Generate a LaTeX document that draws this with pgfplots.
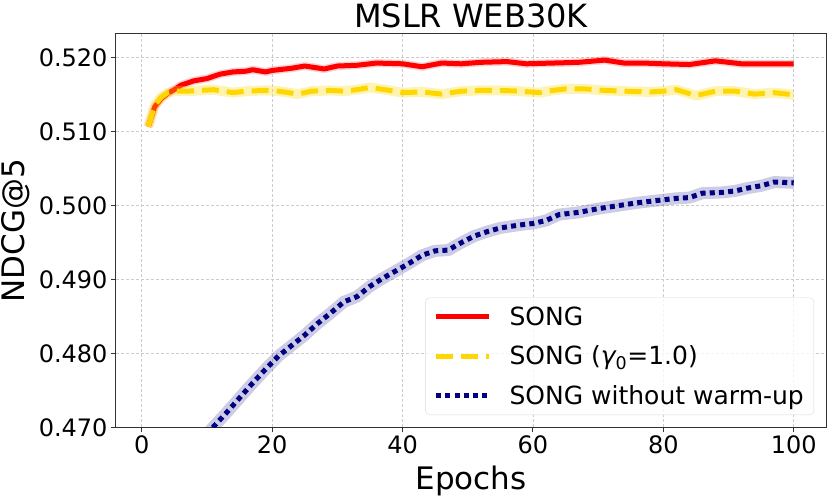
\documentclass[border=0pt]{standalone}
\usepackage{pgfplots}
\pgfplotsset{compat=1.18}
\usepackage{fontspec}
\setmainfont{DejaVu Sans}
\definecolor{songred}{HTML}{FF0000}
\definecolor{songgold}{HTML}{FFD700}
\definecolor{songnavy}{HTML}{000080}

\begin{document}
\begin{tikzpicture}
\begin{axis}[
    scale only axis,
    width=710pt, height=394pt,
    xmin=-3.95, xmax=104.95,
    ymin=0.470, ymax=0.5233,
    xtick={0,20,40,60,80,100},
    ytick={0.47,0.48,0.49,0.50,0.51,0.52},
    scaled y ticks=false,
    yticklabel style={/pgf/number format/.cd,fixed,fixed zerofill,precision=3},
    /pgf/number format/assume math mode=true,
    tick label style={font=\fontsize{24}{28}\selectfont, black},
    tick align=outside, tick pos=left,
    major tick length=5pt,
    every tick/.style={black!80, line width=0.9pt},
    axis line style={black!80, line width=1pt},
    grid=major,
    grid style={dash pattern=on 3pt off 2pt, black!20, line width=0.8pt},
    title={MSLR WEB30K},
    title style={font=\fontsize{32}{36}\selectfont, at={(axis description cs:0.5,1)}, anchor=base, yshift=0pt},
    xlabel={Epochs},
    xlabel style={font=\fontsize{31}{36}\selectfont, at={(axis description cs:0.5,-0.1586)}, anchor=base},
    ylabel={NDCG@5},
    ylabel style={font=\fontsize{31}{36}\selectfont, at={(axis description cs:-0.1282,0.5)}, anchor=base},
    legend cell align=left,
    legend image code/.code={\draw[#1] (0pt,0pt) -- (53pt,0pt);},
    legend style={at={(axis description cs:0.9831,0.0317)}, anchor=south east,
        draw=black!15, rounded corners=4pt, fill=white, fill opacity=0.8, text opacity=1,
        font=\fontsize{25}{29}\selectfont, row sep=15pt, inner xsep=8pt, inner ysep=7pt,
        /tikz/every odd column/.append style={column sep=16pt}},
]
% SONG
\addplot[songred, opacity=0.18, line width=8pt, line join=round, forget plot] coordinates {
(1,0.5107) (2,0.5134) (3,0.5145) (4,0.5152) (5,0.5157) (6,0.5163) (8,0.5169) (10,0.5172)
(12,0.5178) (14,0.5181) (16,0.5182) (17,0.5184) (19,0.5181) (20,0.5183) (23,0.5186) (25,0.5189)
(28,0.5185) (30,0.5189) (33,0.5190) (36,0.5193) (40,0.5192) (43,0.5188) (46,0.5193) (49,0.5192)
(52,0.5194) (56,0.5195) (59,0.5192) (63,0.5193) (67,0.5194) (71,0.5197) (74,0.5193) (77,0.5193)
(80,0.5192) (84,0.5191) (88,0.5196) (92,0.5192) (96,0.5192) (100,0.5192)};
\addplot[songred, line width=5pt, line join=round] coordinates {
(1,0.5107) (2,0.5134) (3,0.5145) (4,0.5152) (5,0.5157) (6,0.5163) (8,0.5169) (10,0.5172)
(12,0.5178) (14,0.5181) (16,0.5182) (17,0.5184) (19,0.5181) (20,0.5183) (23,0.5186) (25,0.5189)
(28,0.5185) (30,0.5189) (33,0.5190) (36,0.5193) (40,0.5192) (43,0.5188) (46,0.5193) (49,0.5192)
(52,0.5194) (56,0.5195) (59,0.5192) (63,0.5193) (67,0.5194) (71,0.5197) (74,0.5193) (77,0.5193)
(80,0.5192) (84,0.5191) (88,0.5196) (92,0.5192) (96,0.5192) (100,0.5192)};
\addlegendentry{SONG}
% SONG gamma_0 = 1.0
\addplot[songgold, opacity=0.3, line width=10pt, line join=round, forget plot] coordinates {
(1,0.5107) (2,0.5136) (3,0.5147) (4,0.5153) (5,0.5155) (7,0.5155) (9,0.5156) (11,0.5157)
(14,0.5153) (16,0.5155) (19,0.5156) (21,0.5155) (24,0.5151) (26,0.5155) (29,0.5156) (31,0.5155)
(33,0.5157) (35,0.5160) (38,0.5156) (40,0.5153) (43,0.5154) (46,0.5151) (49,0.5155) (52,0.5156)
(55,0.5156) (58,0.5155) (61,0.5153) (63,0.5156) (65,0.5158) (68,0.5158) (71,0.5156) (74,0.5155)
(78,0.5154) (80,0.5155) (82,0.5157) (85,0.5149) (88,0.5155) (91,0.5155) (94,0.5151) (97,0.5153)
(100,0.5150)};
\addplot[songgold, line width=5pt, dash pattern=on 17pt off 8pt] coordinates {
(1,0.5107) (2,0.5136) (3,0.5147) (4,0.5153) (5,0.5155) (7,0.5155) (9,0.5156) (11,0.5157)
(14,0.5153) (16,0.5155) (19,0.5156) (21,0.5155) (24,0.5151) (26,0.5155) (29,0.5156) (31,0.5155)
(33,0.5157) (35,0.5160) (38,0.5156) (40,0.5153) (43,0.5154) (46,0.5151) (49,0.5155) (52,0.5156)
(55,0.5156) (58,0.5155) (61,0.5153) (63,0.5156) (65,0.5158) (68,0.5158) (71,0.5156) (74,0.5155)
(78,0.5154) (80,0.5155) (82,0.5157) (85,0.5149) (88,0.5155) (91,0.5155) (94,0.5151) (97,0.5153)
(100,0.5150)};
\addlegendentry{SONG ({\itshape γ}\textsubscript{0}=1.0)}
% SONG without warm-up
\addplot[songnavy, opacity=0.2, line width=12pt, line join=round, forget plot] coordinates {
(1,0.4550) (4,0.4605) (7,0.4652) (9,0.4680) (11,0.4701) (13,0.4720) (15,0.4740) (17,0.4760)
(19,0.4779) (21,0.4797) (23,0.4811) (25,0.4825) (27,0.4841) (29,0.4855) (31,0.4870) (33,0.4877)
(35,0.4891) (37,0.4902) (39,0.4912) (41,0.4922) (43,0.4933) (45,0.4939) (47,0.4940) (49,0.4950)
(51,0.4959) (53,0.4965) (55,0.4970) (58,0.4974) (60,0.4976) (62,0.4980) (64,0.4988) (67,0.4991)
(70,0.4996) (73,0.5000) (76,0.5004) (79,0.5007) (82,0.5010) (84,0.5011) (86,0.5017) (89,0.5018)
(91,0.5020) (93,0.5024) (95,0.5027) (97,0.5032) (100,0.5031)};
\addplot[songnavy, line width=5pt, dash pattern=on 5pt off 4.2pt] coordinates {
(1,0.4550) (4,0.4605) (7,0.4652) (9,0.4680) (11,0.4701) (13,0.4720) (15,0.4740) (17,0.4760)
(19,0.4779) (21,0.4797) (23,0.4811) (25,0.4825) (27,0.4841) (29,0.4855) (31,0.4870) (33,0.4877)
(35,0.4891) (37,0.4902) (39,0.4912) (41,0.4922) (43,0.4933) (45,0.4939) (47,0.4940) (49,0.4950)
(51,0.4959) (53,0.4965) (55,0.4970) (58,0.4974) (60,0.4976) (62,0.4980) (64,0.4988) (67,0.4991)
(70,0.4996) (73,0.5000) (76,0.5004) (79,0.5007) (82,0.5010) (84,0.5011) (86,0.5017) (89,0.5018)
(91,0.5020) (93,0.5024) (95,0.5027) (97,0.5032) (100,0.5031)};
\addlegendentry{SONG without warm-up}
\end{axis}
\pgfresetboundingbox
\path ([xshift=-116pt,yshift=-70.5pt]current axis.south west) rectangle ([xshift=4pt,yshift=33.5pt]current axis.north east);
\end{tikzpicture}
\end{document}
